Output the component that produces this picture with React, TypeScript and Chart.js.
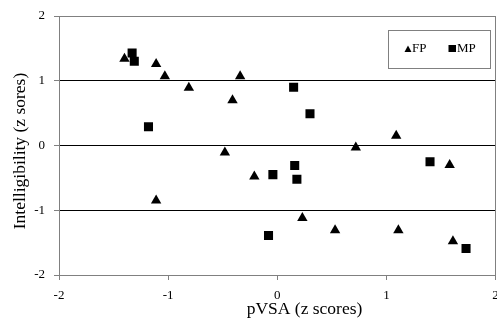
import React, { useEffect, useRef } from "react";
import { Chart, registerables } from "chart.js";

Chart.register(...registerables);

const fpX = [-1.40, -1.11, -1.03, -0.81, -0.48, -0.41, -0.34, -1.11, -0.21, 0.23, 0.53, 0.72, 1.09, 1.11, 1.58, 1.61];
const fpY = [1.34, 1.26, 1.07, 0.89, -0.11, 0.70, 1.07, -0.85, -0.48, -1.12, -1.31, -0.03, 0.15, -1.31, -0.30, -1.48];
const mpX = [-1.33, -1.31, -1.18, -0.08, -0.04, 0.15, 0.16, 0.18, 0.30, 1.40, 1.73];
const mpY = [1.43, 1.30, 0.29, -1.39, -0.45, 0.90, -0.31, -0.52, 0.49, -0.25, -1.59];
const seriesNames = ["FP", "MP"];
const xTitle = "pVSA (z scores)";
const yTitle = "Intelligibility (z sores)";

const FONT = "'Liberation Serif', 'Times New Roman', serif";
const GRAY = "#808080";

const extrasPlugin = {
  id: "extras",
  afterDraw(chart: any) {
    const { ctx, chartArea } = chart;
    ctx.save();
    // right border
    ctx.strokeStyle = GRAY;
    ctx.lineWidth = 1;
    ctx.beginPath();
    ctx.moveTo(Math.round(chartArea.right) - 0.5, chartArea.top);
    ctx.lineTo(Math.round(chartArea.right) - 0.5, chartArea.bottom);
    ctx.stroke();

    // legend box
    ctx.fillStyle = "#fff";
    ctx.fillRect(388.5, 30.5, 102, 38);
    ctx.strokeStyle = GRAY;
    ctx.strokeRect(388.5, 30.5, 102, 38);
    ctx.fillStyle = "#000";
    // triangle marker
    ctx.beginPath();
    ctx.moveTo(408, 45.5);
    ctx.lineTo(411.5, 52);
    ctx.lineTo(404.5, 52);
    ctx.closePath();
    ctx.fill();
    // square marker
    ctx.fillRect(448.5, 45, 7.5, 7);
    ctx.font = `13px ${FONT}`;
    ctx.textBaseline = "alphabetic";
    ctx.textAlign = "left";
    ctx.fillText(seriesNames[0], 412, 52);
    ctx.fillText(seriesNames[1], 457, 52);

    // axis titles
    ctx.font = `17.5px ${FONT}`;
    ctx.textAlign = "center";
    ctx.fillText(xTitle, 304.5, 314);
    ctx.save();
    ctx.translate(24.5, 151);
    ctx.rotate(-Math.PI / 2);
    ctx.fillText(yTitle, 0, 0);
    ctx.restore();
    ctx.restore();
  },
};

export default function App() {
  const ref = useRef<HTMLCanvasElement>(null);
  useEffect(() => {
    if (!ref.current) return;
    const chart = new Chart(ref.current, {
      type: "scatter",
      data: {
        datasets: [
          {
            label: seriesNames[0],
            data: fpX.map((x, i) => ({ x, y: fpY[i] })),
            pointStyle: "triangle",
            pointRadius: 6,
            backgroundColor: "#000",
            borderColor: "#000",
            borderWidth: 0,
          },
          {
            label: seriesNames[1],
            data: mpX.map((x, i) => ({ x, y: mpY[i] })),
            pointStyle: "rect",
            pointRadius: 6.4,
            backgroundColor: "#000",
            borderColor: "#000",
            borderWidth: 0,
          },
        ],
      },
      options: {
        responsive: false,
        animation: false,
        devicePixelRatio: 1,
        layout: { autoPadding: false, padding: { top: 16, right: 1.5, left: 0, bottom: 0 } },
        plugins: {
          legend: { display: false },
          tooltip: { enabled: false },
        },
        scales: {
          x: {
            type: "linear",
            min: -2,
            max: 2,
            ticks: {
              stepSize: 1,
              color: "#000",
              font: { family: FONT, size: 13 },
              padding: 8,
              maxRotation: 0,
            },
            grid: {
              drawOnChartArea: false,
              drawTicks: true,
              tickLength: 5,
              tickColor: GRAY,
              color: GRAY,
            },
            border: { display: true, color: GRAY, width: 1 },
            afterFit(scale: any) {
              scale.height = 50;
              scale.paddingLeft = 0;
              scale.paddingRight = 0;
            },
          },
          y: {
            type: "linear",
            min: -2,
            max: 2,
            ticks: {
              stepSize: 1,
              color: "#000",
              font: { family: FONT, size: 13 },
              padding: 9,
            },
            grid: {
              drawTicks: true,
              tickLength: 5,
              tickColor: GRAY,
              color: (c: any) =>
                c.tick && (c.tick.value === 2 || c.tick.value === -2) ? GRAY : "#000",
            },
            border: { display: true, color: GRAY, width: 1 },
            afterFit(scale: any) {
              scale.width = 59;
              scale.paddingTop = 0;
              scale.paddingBottom = 0;
            },
          },
        },
      },
      plugins: [extrasPlugin],
    });
    return () => chart.destroy();
  }, []);
  return (
    <div style={{ position: "absolute", left: 0, top: 0, width: 497, height: 325, background: "#fff" }}>
      <canvas ref={ref} width={497} height={325} style={{ display: "block" }} />
    </div>
  );
}
